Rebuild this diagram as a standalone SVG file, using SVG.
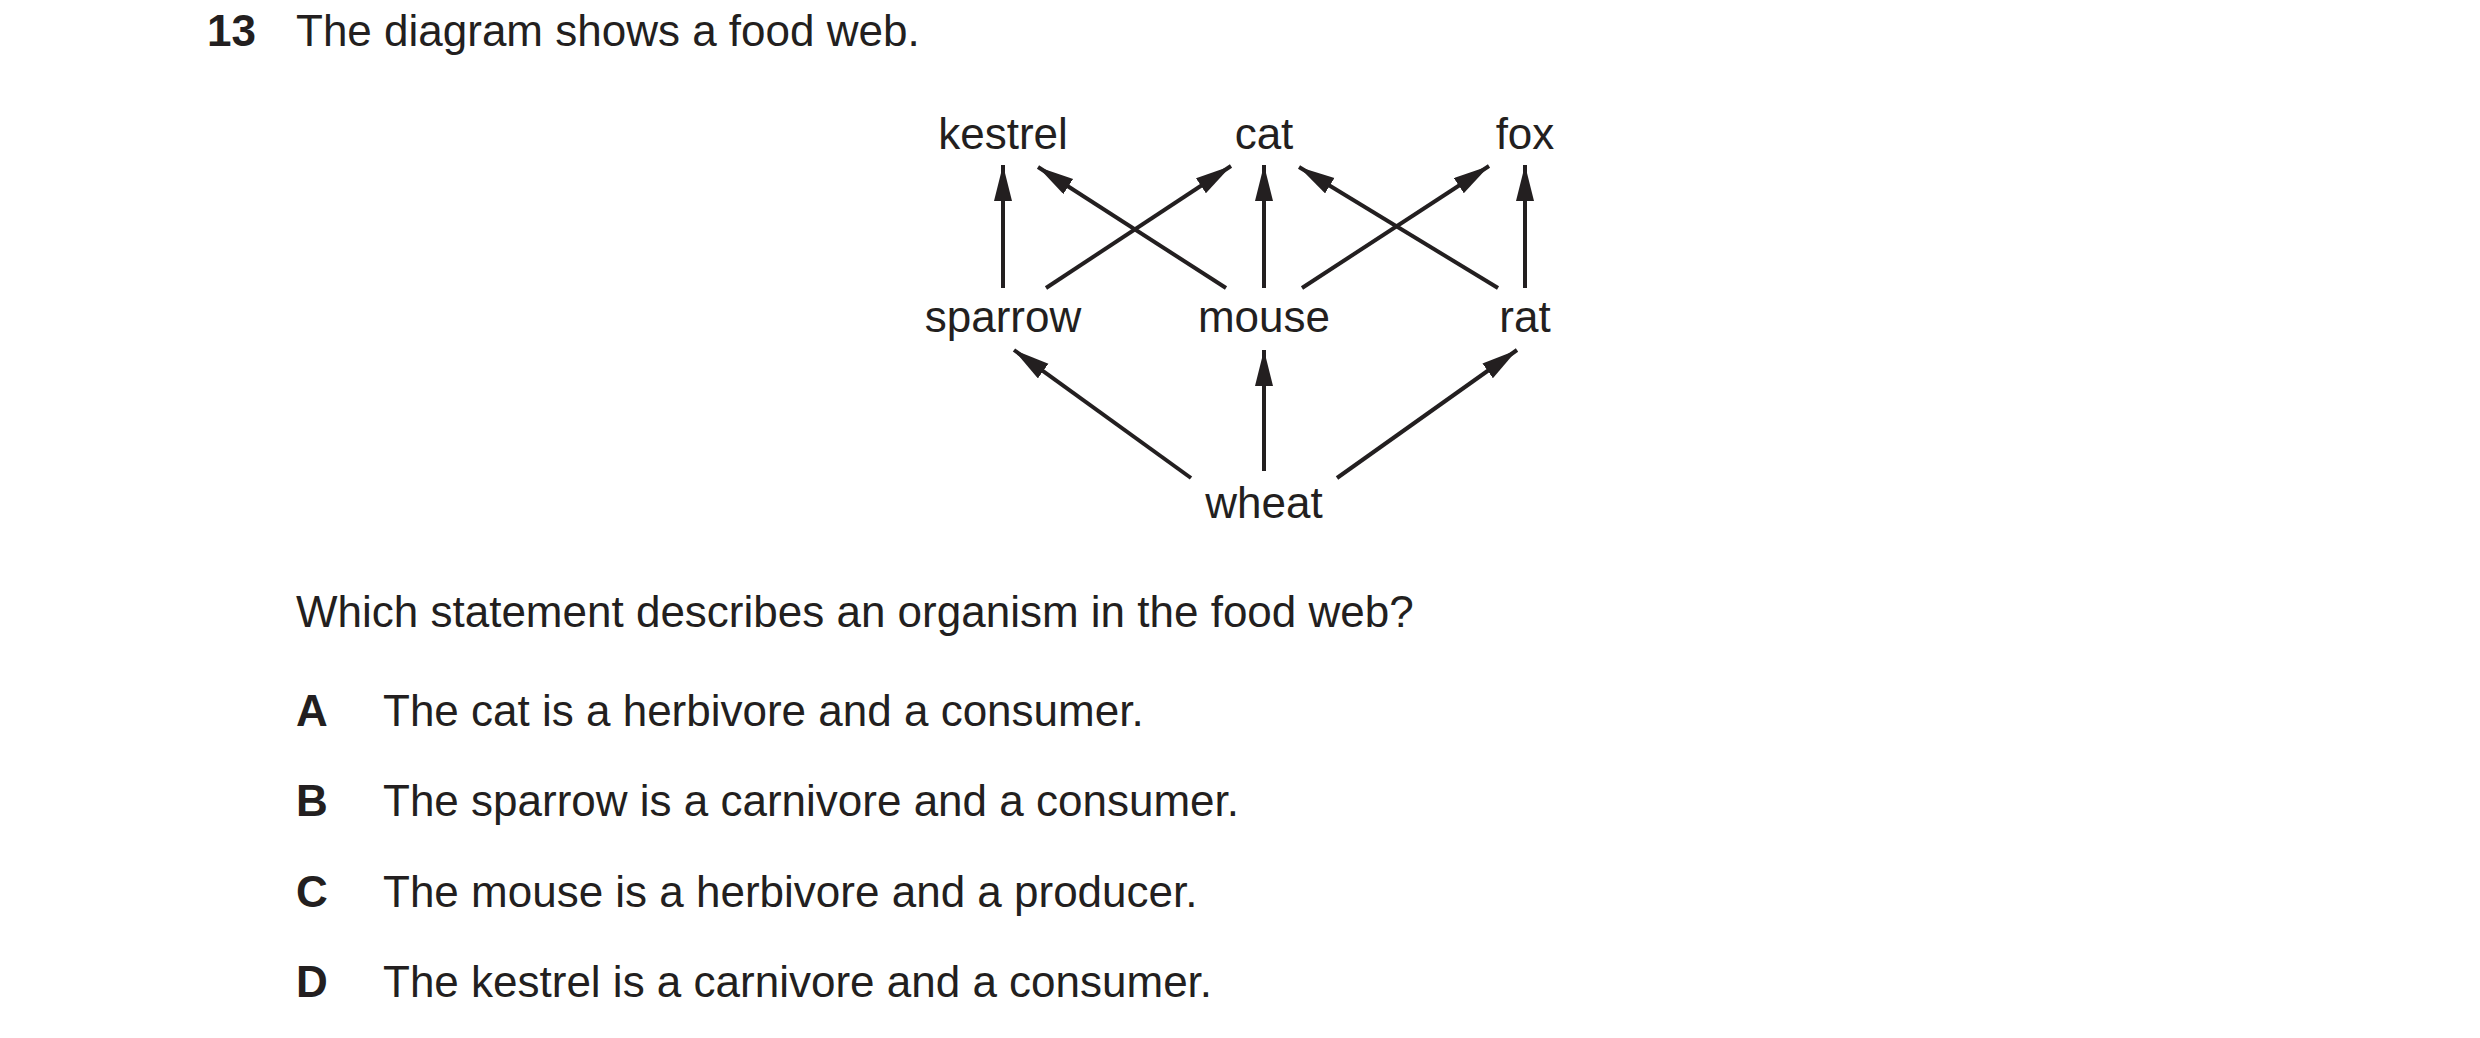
<svg xmlns="http://www.w3.org/2000/svg" width="2480" height="1038" viewBox="0 0 2480 1038">
<style>
text{font-family:"Liberation Sans",Arial,sans-serif;font-size:44px;fill:#231f20}
.b{font-weight:bold}
.n{text-anchor:middle}
.c line{stroke:#231f20;stroke-width:4}
</style>
<defs>
<marker id="ah" markerUnits="userSpaceOnUse" markerWidth="38" markerHeight="20" refX="36" refY="9" orient="auto">
<path d="M0,0 L36,9 L0,18 Z" fill="#231f20"/>
</marker>
</defs>
<rect width="2480" height="1038" fill="#fff"/>
<text x="207" y="46" class="b">13</text>
<text x="296" y="46">The diagram shows a food web.</text>
<g id="kestrel"><text class="n" x="1003" y="149">kestrel</text></g>
<g id="cat"><text class="n" x="1264" y="149">cat</text></g>
<g id="fox"><text class="n" x="1525" y="149">fox</text></g>
<g id="sparrow"><text class="n" x="1003" y="332">sparrow</text></g>
<g id="mouse"><text class="n" x="1264" y="332">mouse</text></g>
<g id="rat"><text class="n" x="1525" y="332">rat</text></g>
<g id="wheat"><text class="n" x="1264" y="518">wheat</text></g>
<g class="c" marker-end="url(#ah)">
<line x1="1003" y1="288" x2="1003" y2="165" marker-end="url(#ah)"/>
<line x1="1046" y1="288" x2="1231" y2="166" marker-end="url(#ah)"/>
<line x1="1226" y1="288" x2="1038" y2="167" marker-end="url(#ah)"/>
<line x1="1264" y1="288" x2="1264" y2="165" marker-end="url(#ah)"/>
<line x1="1302" y1="288" x2="1489" y2="166" marker-end="url(#ah)"/>
<line x1="1498" y1="288" x2="1299" y2="167" marker-end="url(#ah)"/>
<line x1="1525" y1="288" x2="1525" y2="165" marker-end="url(#ah)"/>
<line x1="1191" y1="478" x2="1014" y2="350" marker-end="url(#ah)"/>
<line x1="1264" y1="471" x2="1264" y2="350" marker-end="url(#ah)"/>
<line x1="1337" y1="478" x2="1517" y2="350" marker-end="url(#ah)"/>
</g>
<text x="296" y="627">Which statement describes an organism in the food web?</text>
<text x="296" y="726" class="b">A</text><text x="383" y="726">The cat is a herbivore and a consumer.</text>
<text x="296" y="816" class="b">B</text><text x="383" y="816">The sparrow is a carnivore and a consumer.</text>
<text x="296" y="907" class="b">C</text><text x="383" y="907">The mouse is a herbivore and a producer.</text>
<text x="296" y="997" class="b">D</text><text x="383" y="997">The kestrel is a carnivore and a consumer.</text>
</svg>
